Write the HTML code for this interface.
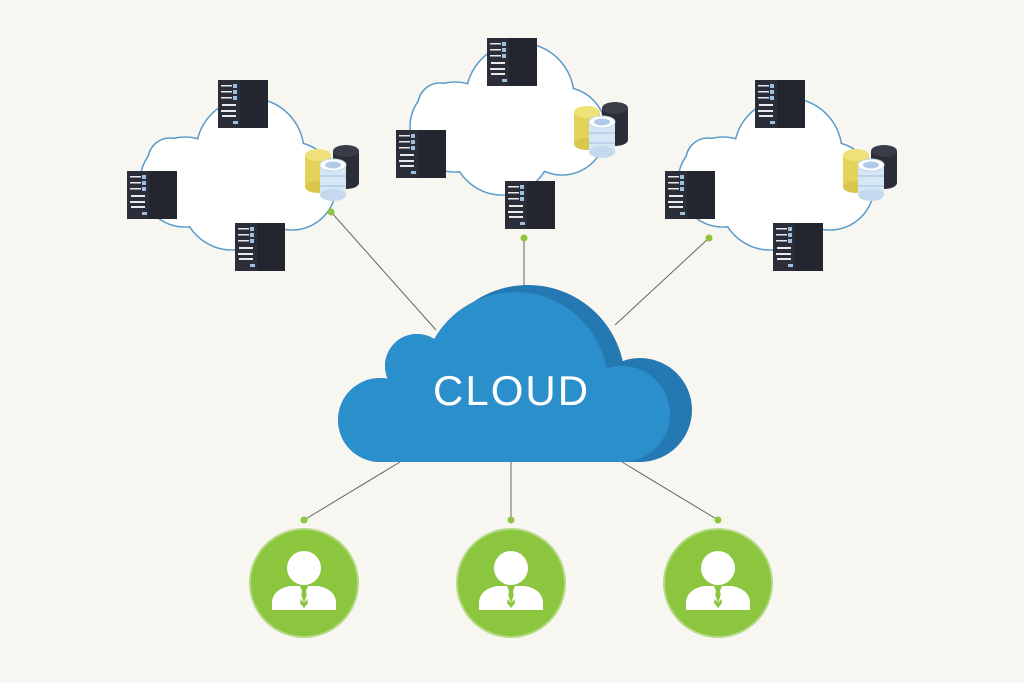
<!DOCTYPE html>
<html><head><style>html,body{margin:0;padding:0;background:#f8f6f1;}svg{display:block}</style></head>
<body>
<svg width="1024" height="683" viewBox="0 0 1024 683" xmlns="http://www.w3.org/2000/svg">
<defs>
<clipPath id="cc"><rect x="0" y="0" width="1024" height="462"/></clipPath>
<g id="sc">
 <g fill="#fff" stroke="#5b9ccb" stroke-width="1.6">
  <circle cx="250" cy="152" r="54"/><circle cx="185" cy="182" r="45"/><circle cx="232" cy="200" r="50"/><circle cx="292" cy="186" r="44"/><circle cx="170" cy="160" r="22"/>
 </g>
 <g fill="#fff">
  <circle cx="250" cy="152" r="53.2"/><circle cx="185" cy="182" r="44.2"/><circle cx="232" cy="200" r="49.2"/><circle cx="292" cy="186" r="43.2"/><circle cx="170" cy="160" r="21.2"/>
 </g>
</g>
<g id="srv">
 <rect x="0" y="0" width="50" height="48" fill="#2b2e39"/>
 <rect x="22" y="0" width="28" height="48" fill="#23262f"/>
 <g fill="#9fbfe0"><rect x="15" y="4" width="4" height="4"/><rect x="15" y="10" width="4" height="4"/><rect x="15" y="16" width="4" height="4"/><rect x="15" y="41" width="5" height="3"/></g>
 <g fill="#e8eaee"><rect x="3" y="5" width="11" height="1.5"/><rect x="3" y="11" width="11" height="1.5"/><rect x="3" y="17" width="11" height="1.5"/><rect x="4" y="24" width="14" height="2"/><rect x="3" y="30" width="15" height="2"/><rect x="4" y="35" width="14" height="2"/></g>
</g>
<g id="db">
 <g><rect x="28" y="8" width="26" height="32" fill="#2b2e39"/><ellipse cx="41" cy="8" rx="13" ry="6" fill="#3a3d48"/><ellipse cx="41" cy="40" rx="13" ry="6" fill="#2b2e39"/></g>
 <g><rect x="0" y="12" width="26" height="32" fill="#e4d35a"/><ellipse cx="13" cy="12" rx="13" ry="6" fill="#f0e27a"/><ellipse cx="13" cy="44" rx="13" ry="6" fill="#d9c64a"/></g>
 <g><rect x="15" y="22" width="26" height="30" fill="#d5e6f5"/><ellipse cx="28" cy="52" rx="13" ry="6" fill="#c4d9ee"/><ellipse cx="28" cy="22" rx="13" ry="6" fill="#fff" stroke="#c4d9ee"/><ellipse cx="28" cy="22" rx="8" ry="3.5" fill="#aecbe8"/><line x1="15" y1="33" x2="41" y2="33" stroke="#9fbfe0"/><line x1="15" y1="43" x2="41" y2="43" stroke="#9fbfe0"/></g>
</g>
<g id="person">
 <circle cx="0" cy="0" r="54" fill="#8cc63f" stroke="#b5da85" stroke-width="2"/>
 <circle cx="0" cy="-15" r="17" fill="#fff"/>
 <path d="M-32 27 L-32 18 Q-30 6 -14 3 L14 3 Q30 6 32 18 L32 27 Z" fill="#fff"/>
 <path d="M-4 3 L4 3 L2 8 L4 20 L0 25 L-4 20 L-2 8 Z" fill="#8cc63f"/>
 <path d="M-14 3 L-6 3 L0 20 Z M14 3 L6 3 L0 20 Z" fill="#fff"/>
</g>
</defs>

<g stroke="#666" stroke-width="1">
 <line x1="331" y1="212" x2="436" y2="330"/><line x1="524" y1="238" x2="524" y2="290"/><line x1="709" y1="238" x2="615" y2="325"/>
 <line x1="400" y1="462" x2="304" y2="520"/><line x1="511" y1="462" x2="511" y2="520"/><line x1="622" y1="462" x2="718" y2="520"/>
</g>

<use href="#sc"/>
<use href="#sc" transform="translate(270,-55)"/>
<use href="#sc" transform="translate(538,0)"/>

<use href="#srv" x="218" y="80"/><use href="#srv" x="127" y="171"/><use href="#srv" x="235" y="223"/>
<use href="#srv" x="487" y="38"/><use href="#srv" x="396" y="130"/><use href="#srv" x="505" y="181"/>
<use href="#srv" x="755" y="80"/><use href="#srv" x="665" y="171"/><use href="#srv" x="773" y="223"/>

<use href="#db" x="305" y="143"/><use href="#db" x="574" y="100"/><use href="#db" x="843" y="143"/>

<g fill="#8cc63f">
 <circle cx="331" cy="212" r="3.5"/><circle cx="524" cy="238" r="3.5"/><circle cx="709" cy="238" r="3.5"/>
 <circle cx="304" cy="520" r="3.5"/><circle cx="511" cy="520" r="3.5"/><circle cx="718" cy="520" r="3.5"/>
</g>

<g clip-path="url(#cc)">
<g fill="#2579b3">
 <circle cx="528" cy="382" r="97"/><circle cx="380" cy="420" r="42"/><circle cx="417" cy="366" r="32"/><circle cx="640" cy="410" r="52"/><rect x="380" y="400" width="262" height="62"/><rect x="400" y="370" width="140" height="92"/>
</g>
<g fill="#2b8fcc">
 <circle cx="515" cy="385" r="93"/><circle cx="380" cy="420" r="42"/><circle cx="417" cy="366" r="32"/><circle cx="622" cy="414" r="48"/><rect x="380" y="400" width="245" height="62"/><rect x="400" y="370" width="140" height="92"/>
</g>
</g>
<text x="433" y="405" font-family="Liberation Sans, sans-serif" font-size="42" letter-spacing="2" fill="#fff">CLOUD</text>

<use href="#person" transform="translate(304,583)"/>
<use href="#person" transform="translate(511,583)"/>
<use href="#person" transform="translate(718,583)"/>
</svg>
</body></html>
